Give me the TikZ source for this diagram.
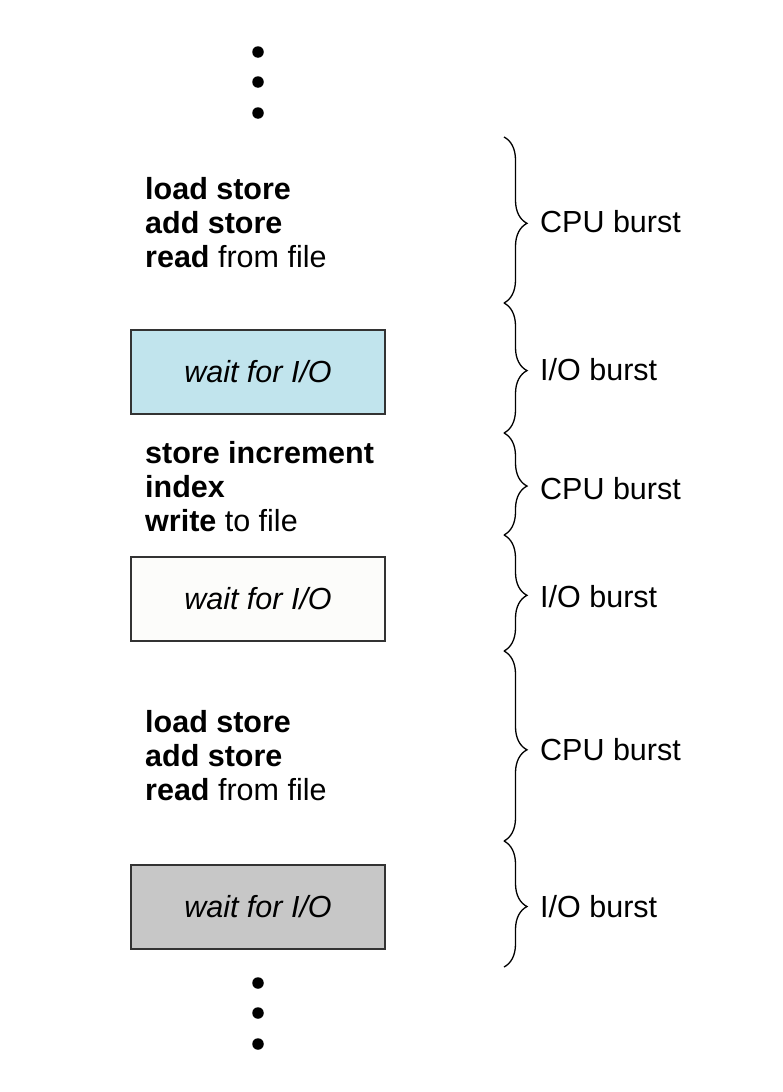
\documentclass[tikz,border=0pt]{standalone}
\usepackage{fontspec}
\setmainfont{Liberation Sans}
\usetikzlibrary{decorations.pathreplacing}
\definecolor{waitblue}{RGB}{193,228,237}
\definecolor{waitgray}{RGB}{199,199,199}
\definecolor{waitwhite}{RGB}{252,252,250}
\begin{document}
\begin{tikzpicture}[x=1pt,y=-1pt,
  txt/.style={font=\fontsize{30.5}{34}\selectfont},
  code/.style={txt, anchor=base west, inner sep=0pt, align=left},
  iobox/.style={draw=black!80, line width=1.2pt, minimum width=254pt,
                minimum height=84pt, inner sep=0pt, font=\fontsize{30.5}{34}\selectfont\itshape},
  burst/.style={txt, anchor=base west, inner sep=0pt},
  span/.style={decorate, decoration={brace, amplitude=23pt, aspect=0.52}, line width=1.3pt},
  dot/.style={circle, fill=black, inner sep=0pt, minimum size=11.5pt}]
\useasboundingbox (0,0) rectangle (782,1092);

% continuation dots
\node[dot] (d1) at (258,52) {};
\node[dot] (d2) at (258,82) {};
\node[dot] (d3) at (258,113) {};
\node[dot] (d4) at (258,983) {};
\node[dot] (d5) at (258,1013) {};
\node[dot] (d6) at (258,1044) {};

% instruction sequences (placed by the baseline of their last line)
\node[code] (c1) at (145,267) {\textbf{load store}\\\textbf{add store}\\\textbf{read} from file};
\node[code] (c2) at (145,531) {\textbf{store increment}\\\textbf{index}\\\textbf{write} to file};
\node[code] (c3) at (145,800) {\textbf{load store}\\\textbf{add store}\\\textbf{read} from file};

% waiting periods
\node[iobox, fill=waitblue]  (w1) at (258,372) {\raisebox{-2pt}{wait for I/O}};
\node[iobox, fill=waitwhite] (w2) at (258,599) {\raisebox{-2pt}{wait for I/O}};
\node[iobox, fill=waitgray]  (w3) at (258,907) {\raisebox{-2pt}{wait for I/O}};

% brace end points
\coordinate (b0) at (504,137);
\coordinate (b1) at (504,303);
\coordinate (b2) at (504,433);
\coordinate (b3) at (504,535);
\coordinate (b4) at (504,651);
\coordinate (b5) at (504,841);
\coordinate (b6) at (504,967);

\draw[span] (b0) -- (b1);
\draw[span] (b1) -- (b2);
\draw[span] (b2) -- (b3);
\draw[span] (b3) -- (b4);
\draw[span] (b4) -- (b5);
\draw[span] (b5) -- (b6);

% burst labels
\node[burst] (l1) at (540,232) {CPU burst};
\node[burst] (l2) at (540,380) {I/O burst};
\node[burst] (l3) at (540,499) {CPU burst};
\node[burst] (l4) at (540,607) {I/O burst};
\node[burst] (l5) at (540,760) {CPU burst};
\node[burst] (l6) at (540,917) {I/O burst};
\end{tikzpicture}
\end{document}
